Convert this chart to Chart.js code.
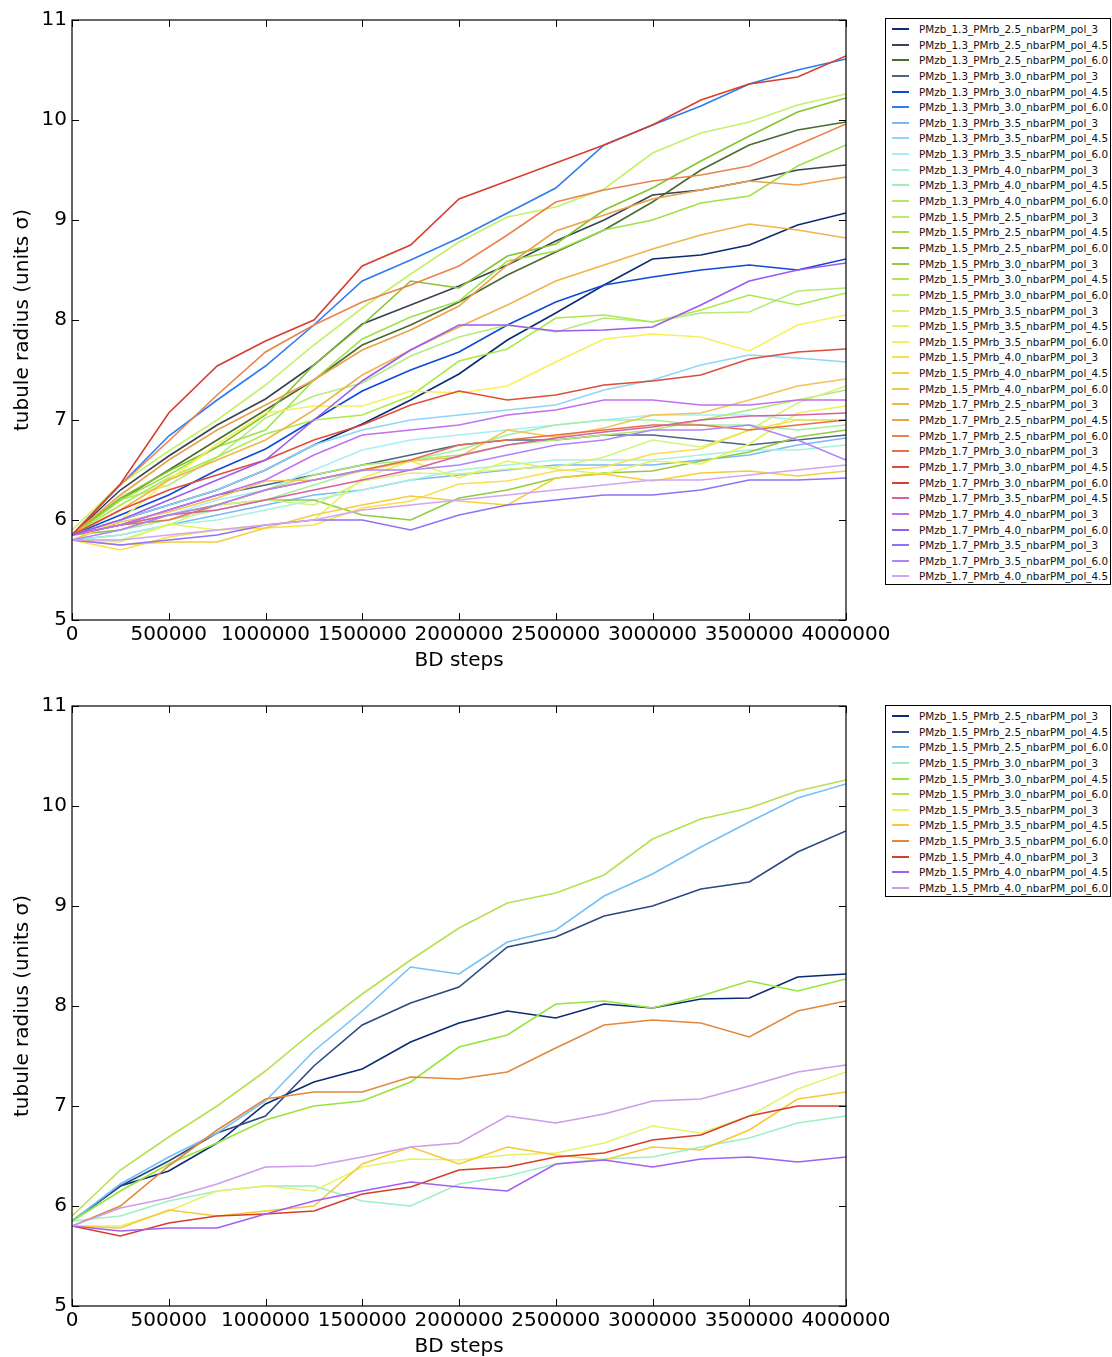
<!DOCTYPE html>
<html>
<head>
<meta charset="utf-8">
<script src="https://cdn.jsdelivr.net/npm/chart.js@4.4.1/dist/chart.umd.min.js"></script>
<style>
html, body { margin: 0; padding: 0; background: #fff; overflow: hidden; }
#page { position: relative; width: 1112px; height: 1357px; }
canvas { position: absolute; left: 0; }
.legend { position: absolute; left: 885px; width: 226px; border: 1px solid #000; background: #fff;
  font-family: "DejaVu Sans", sans-serif; font-size: 10.4px; color: #111; box-sizing: border-box; padding-top: 2px; }
.legend .row { position: relative; height: 15.65px; white-space: nowrap; }
.legend .sw { position: absolute; left: 6px; top: 7px; width: 17px; height: 2px; }
.legend .lbl { position: absolute; left: 33px; top: 1px; line-height: 14px; }
</style>
</head>
<body>
<div id="page">
  <canvas id="topChart" width="1112" height="680" style="top:0px"></canvas>
  <canvas id="botChart" width="1112" height="680" style="top:686px"></canvas>
  <div id="topLegend" class="legend" style="top:18px"></div>
  <div id="botLegend" class="legend" style="top:705px"></div>
</div>
<script>
// BD steps sampled every 250000
var steps = [0, 250000, 500000, 750000, 1000000, 1250000, 1500000, 1750000, 2000000,
  2250000, 2500000, 2750000, 3000000, 3250000, 3500000, 3750000, 4000000];
var xTicks = [0, 500000, 1000000, 1500000, 2000000, 2500000, 3000000, 3500000, 4000000];
var yTicks = [5, 6, 7, 8, 9, 10, 11];

// PMzb 1.3
var z13_rb25_p3  = [5.85, 6.0, 6.15, 6.3, 6.5, 6.75, 6.96, 7.2, 7.46, 7.8, 8.07, 8.35, 8.61, 8.65, 8.75, 8.95, 9.07];
var z13_rb25_p45 = [5.85, 6.3, 6.64, 6.95, 7.21, 7.55, 7.96, 8.15, 8.34, 8.55, 8.79, 9.0, 9.25, 9.3, 9.39, 9.5, 9.55];
var z13_rb25_p6  = [5.85, 6.2, 6.5, 6.8, 7.1, 7.4, 7.75, 7.95, 8.18, 8.45, 8.68, 8.9, 9.18, 9.5, 9.75, 9.9, 9.98];
var z13_rb30_p3  = [5.85, 5.95, 6.1, 6.25, 6.35, 6.45, 6.55, 6.65, 6.75, 6.8, 6.8, 6.85, 6.85, 6.8, 6.75, 6.8, 6.85];
var z13_rb30_p45 = [5.85, 6.05, 6.25, 6.5, 6.71, 7.0, 7.29, 7.5, 7.68, 7.95, 8.18, 8.35, 8.43, 8.5, 8.55, 8.5, 8.61];
var z13_rb30_p6  = [5.85, 6.35, 6.84, 7.2, 7.54, 7.95, 8.39, 8.6, 8.82, 9.07, 9.32, 9.75, 9.95, 10.14, 10.36, 10.5, 10.61];
var z13_rb35_p3  = [5.8, 5.85, 5.95, 6.05, 6.15, 6.25, 6.3, 6.4, 6.45, 6.5, 6.55, 6.55, 6.55, 6.6, 6.65, 6.75, 6.82];
var z13_rb35_p45 = [5.85, 6.0, 6.15, 6.3, 6.5, 6.75, 6.9, 7.0, 7.05, 7.1, 7.15, 7.3, 7.4, 7.55, 7.65, 7.62, 7.58];
var z13_rb35_p6  = [5.85, 5.95, 6.05, 6.2, 6.3, 6.5, 6.7, 6.8, 6.85, 6.9, 6.95, 7.0, 7.05, 7.05, 7.05, 7.0, 7.0];
var z13_rb40_p3  = [5.8, 5.85, 5.95, 6.0, 6.1, 6.2, 6.3, 6.4, 6.5, 6.55, 6.6, 6.6, 6.6, 6.65, 6.7, 6.7, 6.75];
var z13_rb40_p45 = [5.85, 5.9, 6.0, 6.1, 6.2, 6.35, 6.5, 6.6, 6.7, 6.85, 6.95, 7.0, 7.0, 6.95, 6.95, 6.9, 6.95];
var z13_rb40_p6  = [5.85, 5.95, 6.05, 6.15, 6.3, 6.45, 6.55, 6.6, 6.65, 6.75, 6.8, 6.85, 6.9, 7.0, 7.1, 7.2, 7.3];

// PMzb 1.5 (also the lower panel)
var z15_rb25_p3  = [5.85, 6.2, 6.35, 6.63, 7.02, 7.24, 7.37, 7.64, 7.83, 7.95, 7.88, 8.02, 7.98, 8.07, 8.08, 8.29, 8.32];
var z15_rb25_p45 = [5.85, 6.2, 6.45, 6.73, 6.9, 7.4, 7.81, 8.03, 8.19, 8.59, 8.69, 8.9, 9.0, 9.17, 9.24, 9.54, 9.75];
var z15_rb25_p6  = [5.85, 6.22, 6.49, 6.73, 7.05, 7.55, 7.95, 8.39, 8.32, 8.64, 8.76, 9.1, 9.32, 9.59, 9.84, 10.08, 10.22];
var z15_rb30_p3  = [5.85, 5.9, 6.05, 6.15, 6.2, 6.2, 6.05, 6.0, 6.22, 6.3, 6.42, 6.47, 6.49, 6.59, 6.68, 6.83, 6.9];
var z15_rb30_p45 = [5.85, 6.15, 6.42, 6.63, 6.86, 7.0, 7.05, 7.24, 7.59, 7.71, 8.02, 8.05, 7.98, 8.1, 8.25, 8.15, 8.27];
var z15_rb30_p6  = [5.9, 6.36, 6.69, 7.0, 7.35, 7.75, 8.12, 8.46, 8.78, 9.03, 9.13, 9.31, 9.67, 9.87, 9.98, 10.15, 10.26];
var z15_rb35_p3  = [5.8, 5.8, 5.95, 6.15, 6.2, 6.15, 6.39, 6.47, 6.46, 6.51, 6.53, 6.63, 6.8, 6.73, 6.9, 7.17, 7.34];
var z15_rb35_p45 = [5.8, 5.78, 5.96, 5.9, 5.95, 6.0, 6.42, 6.59, 6.42, 6.59, 6.51, 6.46, 6.59, 6.56, 6.76, 7.07, 7.14];
var z15_rb35_p6  = [5.8, 6.0, 6.4, 6.76, 7.07, 7.14, 7.14, 7.29, 7.27, 7.34, 7.58, 7.81, 7.86, 7.83, 7.69, 7.95, 8.05];
var z15_rb40_p3  = [5.8, 5.7, 5.83, 5.9, 5.92, 5.95, 6.12, 6.19, 6.36, 6.39, 6.49, 6.53, 6.66, 6.71, 6.9, 7.0, 7.0];
var z15_rb40_p45 = [5.8, 5.75, 5.78, 5.78, 5.92, 6.05, 6.15, 6.24, 6.19, 6.15, 6.42, 6.46, 6.39, 6.47, 6.49, 6.44, 6.49];
var z15_rb40_p6  = [5.8, 5.98, 6.08, 6.22, 6.39, 6.4, 6.49, 6.59, 6.63, 6.9, 6.83, 6.92, 7.05, 7.07, 7.2, 7.34, 7.41];

// PMzb 1.7
var z17_rb25_p3  = [5.85, 6.1, 6.4, 6.6, 6.8, 7.1, 7.45, 7.7, 7.93, 8.15, 8.39, 8.55, 8.71, 8.85, 8.96, 8.9, 8.82];
var z17_rb25_p45 = [5.85, 6.25, 6.6, 6.9, 7.15, 7.4, 7.7, 7.9, 8.14, 8.55, 8.89, 9.05, 9.21, 9.3, 9.39, 9.35, 9.43];
var z17_rb25_p6  = [5.85, 6.35, 6.79, 7.25, 7.68, 7.95, 8.18, 8.35, 8.54, 8.85, 9.18, 9.3, 9.39, 9.45, 9.54, 9.75, 9.96];
var z17_rb30_p3  = [5.85, 5.95, 6.0, 6.15, 6.3, 6.4, 6.5, 6.6, 6.75, 6.8, 6.85, 6.9, 6.95, 6.95, 6.9, 6.95, 7.0];
var z17_rb30_p45 = [5.85, 6.1, 6.3, 6.45, 6.6, 6.8, 6.95, 7.15, 7.29, 7.2, 7.25, 7.35, 7.39, 7.45, 7.61, 7.68, 7.71];
var z17_rb30_p6  = [5.85, 6.36, 7.07, 7.54, 7.79, 8.0, 8.54, 8.75, 9.21, 9.39, 9.57, 9.75, 9.95, 10.2, 10.36, 10.43, 10.64];
var z17_rb35_p45 = [5.85, 5.95, 6.05, 6.1, 6.2, 6.3, 6.4, 6.5, 6.64, 6.75, 6.82, 6.88, 6.93, 7.0, 7.04, 7.05, 7.07];
var z17_rb40_p3  = [5.85, 5.95, 6.1, 6.25, 6.4, 6.65, 6.85, 6.9, 6.95, 7.05, 7.1, 7.2, 7.2, 7.15, 7.15, 7.2, 7.2];
var z17_rb40_p6  = [5.85, 6.0, 6.2, 6.4, 6.6, 7.0, 7.39, 7.7, 7.95, 7.95, 7.89, 7.9, 7.93, 8.15, 8.39, 8.5, 8.57];
var z17_rb35_p3  = [5.8, 5.75, 5.8, 5.85, 5.95, 6.0, 6.0, 5.9, 6.05, 6.15, 6.2, 6.25, 6.25, 6.3, 6.4, 6.4, 6.42];
var z17_rb35_p6  = [5.8, 5.9, 6.05, 6.15, 6.3, 6.4, 6.5, 6.5, 6.55, 6.65, 6.75, 6.8, 6.9, 6.9, 6.95, 6.8, 6.6];
var z17_rb40_p45 = [5.8, 5.8, 5.85, 5.9, 5.95, 6.0, 6.1, 6.15, 6.2, 6.25, 6.3, 6.35, 6.4, 6.4, 6.45, 6.5, 6.55];

var topLabels = [
  'PMzb_1.3_PMrb_2.5_nbarPM_pol_3', 'PMzb_1.3_PMrb_2.5_nbarPM_pol_4.5', 'PMzb_1.3_PMrb_2.5_nbarPM_pol_6.0',
  'PMzb_1.3_PMrb_3.0_nbarPM_pol_3', 'PMzb_1.3_PMrb_3.0_nbarPM_pol_4.5', 'PMzb_1.3_PMrb_3.0_nbarPM_pol_6.0',
  'PMzb_1.3_PMrb_3.5_nbarPM_pol_3', 'PMzb_1.3_PMrb_3.5_nbarPM_pol_4.5', 'PMzb_1.3_PMrb_3.5_nbarPM_pol_6.0',
  'PMzb_1.3_PMrb_4.0_nbarPM_pol_3', 'PMzb_1.3_PMrb_4.0_nbarPM_pol_4.5', 'PMzb_1.3_PMrb_4.0_nbarPM_pol_6.0',
  'PMzb_1.5_PMrb_2.5_nbarPM_pol_3', 'PMzb_1.5_PMrb_2.5_nbarPM_pol_4.5', 'PMzb_1.5_PMrb_2.5_nbarPM_pol_6.0',
  'PMzb_1.5_PMrb_3.0_nbarPM_pol_3', 'PMzb_1.5_PMrb_3.0_nbarPM_pol_4.5', 'PMzb_1.5_PMrb_3.0_nbarPM_pol_6.0',
  'PMzb_1.5_PMrb_3.5_nbarPM_pol_3', 'PMzb_1.5_PMrb_3.5_nbarPM_pol_4.5', 'PMzb_1.5_PMrb_3.5_nbarPM_pol_6.0',
  'PMzb_1.5_PMrb_4.0_nbarPM_pol_3', 'PMzb_1.5_PMrb_4.0_nbarPM_pol_4.5', 'PMzb_1.5_PMrb_4.0_nbarPM_pol_6.0',
  'PMzb_1.7_PMrb_2.5_nbarPM_pol_3', 'PMzb_1.7_PMrb_2.5_nbarPM_pol_4.5', 'PMzb_1.7_PMrb_2.5_nbarPM_pol_6.0',
  'PMzb_1.7_PMrb_3.0_nbarPM_pol_3', 'PMzb_1.7_PMrb_3.0_nbarPM_pol_4.5', 'PMzb_1.7_PMrb_3.0_nbarPM_pol_6.0',
  'PMzb_1.7_PMrb_3.5_nbarPM_pol_4.5', 'PMzb_1.7_PMrb_4.0_nbarPM_pol_3', 'PMzb_1.7_PMrb_4.0_nbarPM_pol_6.0',
  'PMzb_1.7_PMrb_3.5_nbarPM_pol_3', 'PMzb_1.7_PMrb_3.5_nbarPM_pol_6.0', 'PMzb_1.7_PMrb_4.0_nbarPM_pol_4.5'
];
var topColors = [
  '#0b2b72', '#37434f', '#4b6a2e', '#4c6488', '#0c49d6', '#2f7bf2',
  '#7ab8f8', '#8fd6f8', '#a8eef8', '#a6f2dc', '#a4eea8', '#acea74',
  '#b4ec7c', '#9ee24a', '#84c42e', '#90cc40', '#acea4c', '#c4f06a',
  '#d6f280', '#e4f45a', '#f6f05e', '#f8e04a', '#f6cc3e', '#f2c456',
  '#f0b44c', '#eca04a', '#e8844c', '#e4704e', '#e04c3a', '#d83e30',
  '#d8609e', '#c070f2', '#9c5af2', '#8e72f8', '#b084f8', '#d2a4f2'
];
var topValues = [
  z13_rb25_p3, z13_rb25_p45, z13_rb25_p6, z13_rb30_p3, z13_rb30_p45, z13_rb30_p6,
  z13_rb35_p3, z13_rb35_p45, z13_rb35_p6, z13_rb40_p3, z13_rb40_p45, z13_rb40_p6,
  z15_rb25_p3, z15_rb25_p45, z15_rb25_p6, z15_rb30_p3, z15_rb30_p45, z15_rb30_p6,
  z15_rb35_p3, z15_rb35_p45, z15_rb35_p6, z15_rb40_p3, z15_rb40_p45, z15_rb40_p6,
  z17_rb25_p3, z17_rb25_p45, z17_rb25_p6, z17_rb30_p3, z17_rb30_p45, z17_rb30_p6,
  z17_rb35_p45, z17_rb40_p3, z17_rb40_p6, z17_rb35_p3, z17_rb35_p6, z17_rb40_p45
];

var botLabels = topLabels.slice(12, 24);
var botColors = [
  '#0a2c74', '#2a4a82', '#74c1f6', '#9cf0c4', '#96e53a', '#b6e052',
  '#e4f46a', '#f7c935', '#e0893c', '#d63d2a', '#a35ef5', '#cc9de8'
];
var botValues = topValues.slice(12, 24);

var FONT = '"DejaVu Sans", "Liberation Sans", sans-serif';

// plot frame with inward ticks on all four sides
var framePlugin = {
  id: 'frame',
  afterDatasetsDraw: function(chart) {
    var ctx = chart.ctx, a = chart.chartArea, xs = chart.scales.x, ys = chart.scales.y;
    ctx.save();
    ctx.strokeStyle = '#000';
    ctx.lineWidth = 1.2;
    ctx.strokeRect(a.left, a.top, a.right - a.left, a.bottom - a.top);
    ctx.beginPath();
    xTicks.forEach(function(v) {
      var px = Math.round(xs.getPixelForValue(v)) + 0.5;
      ctx.moveTo(px, a.bottom); ctx.lineTo(px, a.bottom - 7);
      ctx.moveTo(px, a.top); ctx.lineTo(px, a.top + 7);
    });
    yTicks.forEach(function(v) {
      var py = Math.round(ys.getPixelForValue(v)) + 0.5;
      ctx.moveTo(a.left, py); ctx.lineTo(a.left + 7, py);
      ctx.moveTo(a.right, py); ctx.lineTo(a.right - 7, py);
    });
    ctx.lineWidth = 1;
    ctx.stroke();
    ctx.restore();
  }
};

function makeDatasets(labels, colors, values) {
  return labels.map(function(lbl, i) {
    return {
      label: lbl,
      data: steps.map(function(s, j) { return { x: s, y: values[i][j] }; }),
      borderColor: colors[i],
      backgroundColor: colors[i],
      borderWidth: 1.6,
      pointRadius: 0,
      tension: 0,
      fill: false,
      order: labels.length - i
    };
  });
}

function makeChart(id, labels, colors, values) {
  var ctx = document.getElementById(id).getContext('2d');
  return new Chart(ctx, {
    type: 'line',
    data: { datasets: makeDatasets(labels, colors, values) },
    options: {
      responsive: false,
      animation: false,
      events: [],
      layout: { padding: { left: 0, top: 20, right: 266, bottom: 0 } },
      plugins: { legend: { display: false }, tooltip: { enabled: false } },
      scales: {
        x: {
          type: 'linear', min: 0, max: 4000000,
          afterFit: function(scale) { scale.height = 60; },
          grid: { display: false, drawTicks: false },
          border: { display: false },
          afterBuildTicks: function(scale) { scale.ticks = xTicks.map(function(v) { return { value: v }; }); },
          ticks: {
            autoSkip: false, maxRotation: 0, minRotation: 0, padding: 3,
            color: '#000', font: { family: FONT, size: 20 },
            callback: function(v) { return String(v); }
          },
          title: { display: true, text: 'BD steps', color: '#000', font: { family: FONT, size: 20 }, padding: { top: 0, bottom: 7 } }
        },
        y: {
          type: 'linear', min: 5, max: 11,
          afterFit: function(scale) { scale.width = 72; },
          grid: { display: false, drawTicks: false },
          border: { display: false },
          ticks: { stepSize: 1, padding: 5, color: '#000', font: { family: FONT, size: 20 } },
          title: { display: true, text: 'tubule radius (units σ)', color: '#000', font: { family: FONT, size: 20 }, padding: { top: 11, bottom: 0 } }
        }
      }
    },
    plugins: [framePlugin]
  });
}

function buildLegend(id, labels, colors) {
  var box = document.getElementById(id);
  labels.forEach(function(lbl, i) {
    var row = document.createElement('div');
    row.className = 'row';
    var sw = document.createElement('span');
    sw.className = 'sw';
    sw.style.background = colors[i];
    var tx = document.createElement('span');
    tx.className = 'lbl';
    tx.textContent = lbl;
    row.appendChild(sw);
    row.appendChild(tx);
    box.appendChild(row);
  });
}

makeChart('topChart', topLabels, topColors, topValues);
makeChart('botChart', botLabels, botColors, botValues);
buildLegend('topLegend', topLabels, topColors);
buildLegend('botLegend', botLabels, botColors);
</script>
</body>
</html>
